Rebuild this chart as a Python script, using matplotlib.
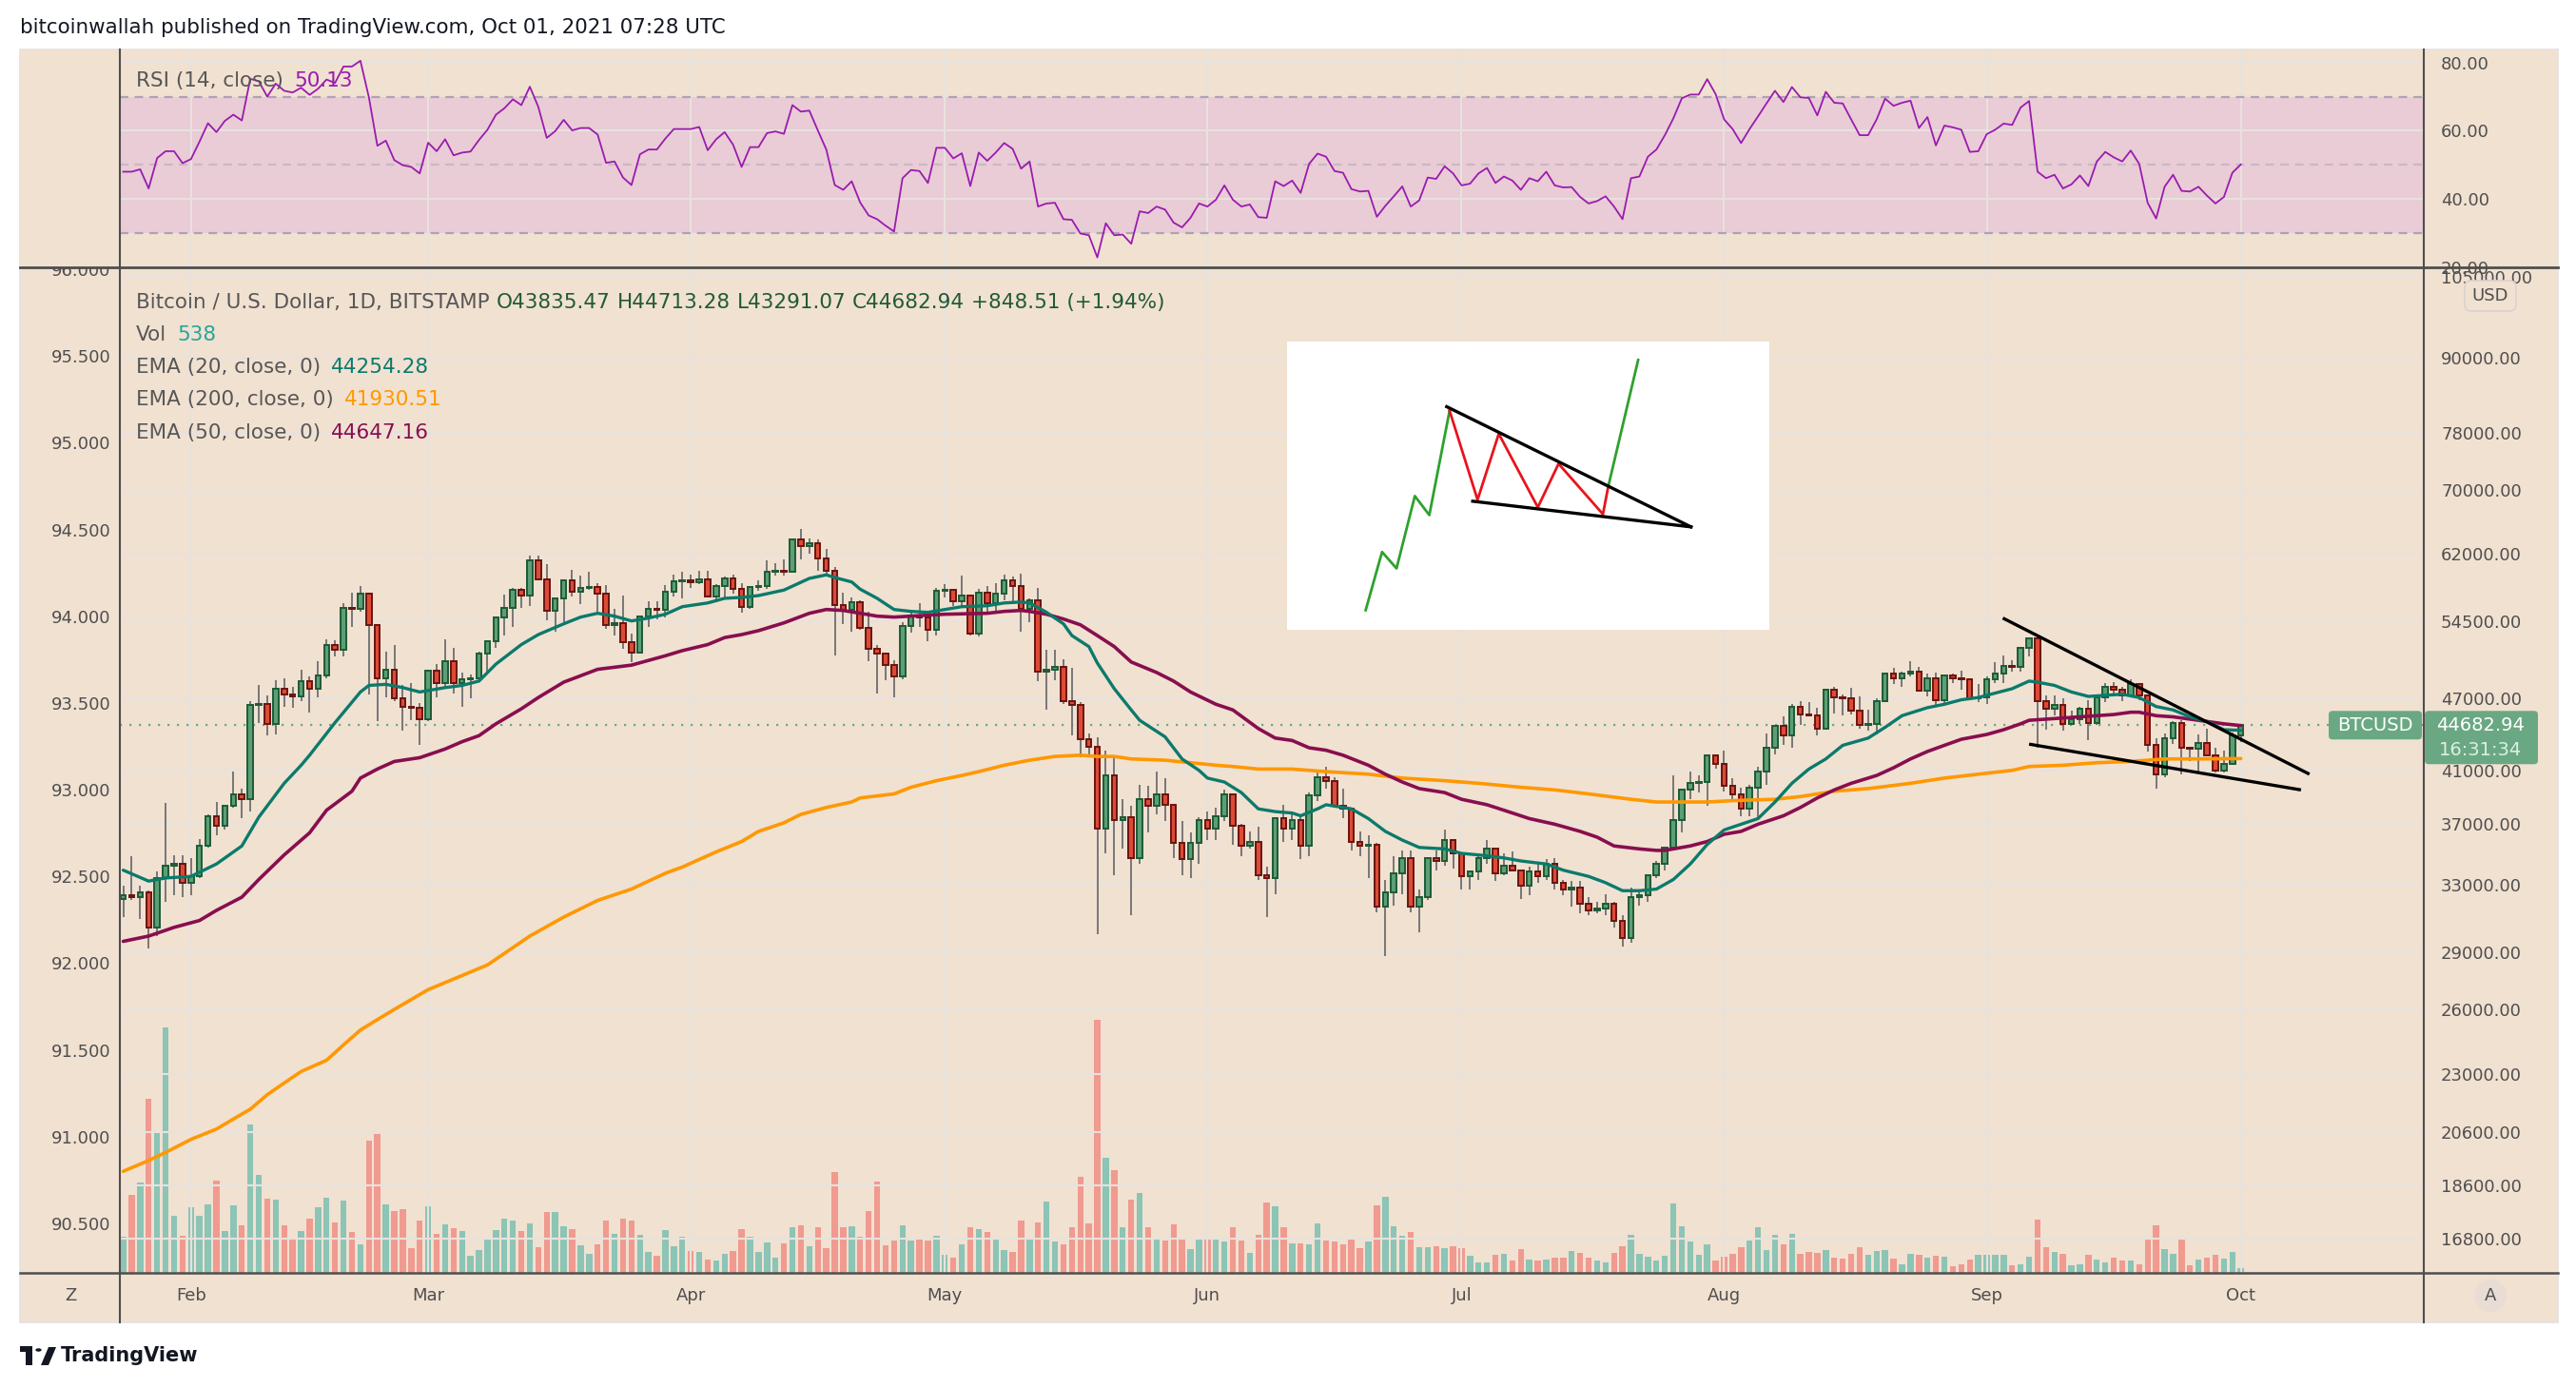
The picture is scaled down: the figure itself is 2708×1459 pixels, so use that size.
import numpy as np
import matplotlib
matplotlib.use('Agg')
import matplotlib.pyplot as plt
from matplotlib.lines import Line2D
from matplotlib.patches import Rectangle, FancyBboxPatch
from matplotlib.transforms import IdentityTransform

# ---------------------------------------------------------------- data
# daily BTCUSD candles, Jan 24 2021 .. Oct 1 2021, prices in thousands of USD
opens = [
    32.1, 32.3, 32.2, 32.5, 30.4, 33.4, 34.2, 34.3,
    33.1, 33.5, 35.5, 37.6, 36.9, 38.3, 39.2, 38.8, 46.4, 46.5, 44.8, 47.9, 47.4, 47.2,
    48.6, 47.9, 49.1, 52.1, 51.6, 55.9, 55.8, 57.4, 54.1, 48.9, 49.7, 47.0, 46.3, 46.2,
    45.2, 49.6, 48.4, 50.5, 48.4, 48.8, 48.9, 51.2, 52.4, 54.9, 55.9, 57.8, 57.2, 61.2,
    59.0, 55.6, 56.9, 58.9, 57.6, 58.0, 58.1, 57.4, 54.1, 54.3, 52.3, 51.3, 55.0, 55.8,
    55.7, 57.6, 58.8,
    58.9, 58.7, 59.0, 57.1, 58.2, 59.1, 57.9, 56.0, 58.1, 58.2, 59.8, 60.0, 59.9, 63.6,
    62.9, 63.2, 61.4, 60.0, 56.2, 55.7, 56.5, 53.8, 51.7, 51.2, 50.1, 49.0, 54.0, 55.0,
    54.9, 53.6,
    57.7, 57.8, 56.6, 57.2, 53.2, 57.5, 56.4, 57.4, 58.9, 58.3, 55.8, 56.7, 49.5, 49.7,
    49.9, 46.8, 46.4, 43.5, 42.9, 36.7, 40.6, 37.3, 37.5, 34.7, 38.8, 38.3, 39.2, 38.4,
    35.7, 34.6, 35.7,
    37.3, 36.7, 37.6, 39.2, 36.9, 35.5, 35.8, 33.6, 33.4, 37.4, 36.7, 37.3, 35.5, 39.1,
    40.5, 40.2, 38.3, 38.1, 35.8, 35.5, 35.6, 31.6, 32.5, 33.7, 34.7, 31.6, 32.2, 34.7,
    34.5, 35.9,
    35.0, 33.5, 33.8, 34.7, 35.3, 33.7, 34.2, 33.9, 32.9, 33.8, 33.5, 34.3, 33.1, 32.7,
    32.8, 31.8, 31.4, 31.5, 31.8, 30.8, 29.8, 32.2, 32.3, 33.6, 34.3, 35.4, 37.3, 39.5,
    40.0, 40.1, 42.2,
    41.5, 39.8, 39.2, 38.1, 39.7, 40.9, 42.8, 44.6, 43.8, 46.3, 45.6, 45.5, 44.4, 47.8,
    47.1, 47.0, 45.9, 44.7, 44.8, 46.8, 49.3, 48.9, 49.3, 49.5, 47.7, 48.9, 46.9, 49.1,
    48.9, 48.8, 47.0,
    47.1, 48.8, 49.3, 50.0, 49.9, 51.8, 52.7, 46.8, 46.1, 46.4, 44.8, 45.2, 46.1, 44.9,
    47.1, 48.1, 47.8, 47.3, 48.3, 47.3, 43.0, 40.7, 43.6, 44.9, 42.8, 42.7, 43.2, 42.2,
    41.0, 41.5,
    43.83547,
]
highs = [
    32.9, 34.8, 32.9, 32.6, 33.8, 38.5, 34.9, 34.9,
    34.7, 36.0, 37.7, 38.6, 38.3, 40.9, 39.6, 46.8, 48.2, 47.3, 48.7, 48.9, 48.1, 49.7,
    49.0, 50.5, 52.6, 52.5, 56.4, 57.5, 58.3, 57.5, 54.2, 51.4, 52.1, 48.2, 48.4, 46.6,
    49.7, 50.2, 52.6, 51.8, 49.4, 49.2, 51.4, 52.4, 54.9, 57.3, 58.0, 58.0, 61.7, 61.7,
    60.7, 56.9, 58.9, 60.1, 59.4, 59.9, 58.6, 58.4, 55.8, 57.2, 53.2, 55.0, 56.6, 56.6,
    58.4, 59.5, 59.9,
    59.5, 60.0, 60.0, 58.5, 59.3, 59.5, 58.6, 58.2, 58.9, 61.2, 60.8, 61.3, 63.8, 64.9,
    63.8, 63.6, 62.5, 60.4, 57.5, 57.0, 56.7, 55.5, 52.1, 51.2, 50.6, 54.4, 55.5, 56.4,
    55.2, 58.0,
    58.5, 57.8, 59.4, 57.2, 57.9, 58.3, 58.6, 59.5, 59.3, 59.6, 56.9, 58.0, 51.6, 51.6,
    50.7, 49.8, 46.7, 44.0, 43.7, 42.6, 42.2, 38.8, 38.3, 39.9, 39.8, 40.9, 40.4, 38.4,
    37.2, 36.4, 37.5,
    37.9, 38.2, 39.5, 39.2, 37.0, 36.5, 36.8, 34.1, 37.5, 38.4, 37.7, 37.5, 39.3, 41.0,
    41.3, 40.5, 39.6, 38.2, 36.5, 36.2, 35.7, 33.3, 34.8, 35.2, 35.2, 32.7, 34.7, 35.2,
    36.6, 36.0,
    35.0, 33.9, 35.0, 35.9, 35.3, 35.0, 35.1, 33.9, 34.1, 34.3, 34.6, 34.7, 33.3, 33.2,
    33.2, 32.2, 31.9, 32.4, 31.9, 31.1, 32.8, 32.6, 33.6, 34.5, 35.4, 40.6, 39.5, 40.9,
    40.6, 42.3, 42.3,
    42.6, 40.4, 39.7, 39.9, 41.3, 44.0, 44.6, 45.4, 46.5, 46.8, 46.7, 46.2, 47.9, 48.1,
    47.4, 48.0, 47.2, 46.0, 47.0, 49.4, 49.8, 49.5, 50.5, 49.9, 49.3, 49.4, 49.2, 49.3,
    49.6, 48.9, 48.3,
    49.0, 50.4, 51.0, 50.6, 51.9, 52.8, 52.9, 47.3, 47.3, 47.0, 45.9, 46.3, 46.9, 47.2,
    48.4, 48.5, 48.1, 48.8, 48.4, 47.4, 43.6, 44.0, 45.0, 45.1, 42.9, 43.9, 44.4, 42.8,
    42.6, 44.1,
    44.71328,
]
lows = [
    31.0, 32.0, 30.9, 29.2, 29.9, 31.9, 32.3, 32.2,
    32.3, 33.4, 35.4, 36.2, 36.6, 38.2, 37.4, 37.9, 44.9, 43.8, 43.9, 46.3, 46.2, 46.8,
    45.8, 47.1, 48.9, 50.9, 50.9, 53.9, 55.5, 47.4, 45.0, 47.1, 46.8, 44.2, 45.1, 43.0,
    45.0, 47.1, 48.1, 47.5, 46.3, 47.0, 48.7, 49.3, 51.8, 53.0, 53.9, 55.9, 56.1, 59.0,
    54.6, 53.4, 54.1, 57.1, 56.3, 57.8, 55.5, 53.7, 53.0, 51.7, 50.4, 51.2, 53.9, 54.7,
    54.9, 57.1, 56.9,
    58.0, 58.5, 57.0, 56.5, 56.8, 57.4, 55.4, 55.8, 57.7, 57.9, 59.4, 59.4, 59.8, 61.3,
    62.0, 60.0, 59.6, 51.0, 54.2, 53.4, 53.6, 50.5, 47.5, 48.7, 47.1, 48.8, 53.3, 53.9,
    52.4, 53.0,
    57.0, 56.1, 56.0, 53.0, 52.9, 55.3, 55.3, 56.7, 56.3, 53.4, 54.4, 48.6, 46.0, 48.7,
    46.5, 43.8, 42.0, 42.0, 30.0, 35.0, 33.6, 35.3, 31.1, 34.3, 36.4, 37.7, 37.2, 34.7,
    33.6, 33.4, 34.3,
    35.9, 35.9, 37.2, 35.6, 34.8, 35.3, 33.3, 31.0, 32.4, 35.8, 35.9, 34.6, 34.8, 38.7,
    39.6, 38.2, 37.4, 35.2, 34.8, 33.4, 31.3, 28.8, 31.7, 32.4, 31.3, 30.1, 32.0, 33.9,
    34.2, 34.0,
    32.7, 32.7, 33.3, 34.3, 33.2, 33.6, 33.8, 32.1, 32.3, 33.1, 33.3, 32.7, 32.3, 31.6,
    31.2, 31.1, 31.2, 31.1, 30.4, 29.3, 29.5, 31.7, 31.9, 33.4, 33.9, 35.3, 36.4, 38.8,
    39.3, 38.3, 41.1,
    39.4, 38.7, 37.6, 37.6, 37.4, 39.9, 42.3, 43.0, 42.8, 44.7, 45.4, 43.8, 44.4, 45.7,
    45.5, 45.6, 44.4, 44.2, 43.9, 46.7, 48.3, 48.1, 49.0, 47.6, 47.2, 46.4, 46.4, 48.4,
    47.8, 46.9, 46.7,
    46.5, 48.4, 48.4, 49.5, 49.5, 50.9, 42.8, 44.3, 45.5, 44.2, 44.7, 44.8, 43.4, 44.7,
    46.7, 47.2, 46.8, 47.1, 46.9, 42.5, 39.6, 40.5, 43.1, 40.7, 41.7, 40.8, 42.1, 40.8,
    40.8, 41.4,
    43.29107,
]
closes = [
    32.3, 32.2, 32.5, 30.4, 33.4, 34.2, 34.3, 33.1,
    33.5, 35.5, 37.6, 36.9, 38.3, 39.2, 38.8, 46.4, 46.5, 44.8, 47.9, 47.4, 47.2, 48.6,
    47.9, 49.1, 52.1, 51.6, 55.9, 55.8, 57.4, 54.1, 48.9, 49.7, 47.0, 46.3, 46.2, 45.2,
    49.6, 48.4, 50.5, 48.4, 48.8, 48.9, 51.2, 52.4, 54.9, 55.9, 57.8, 57.2, 61.2, 59.0,
    55.6, 56.9, 58.9, 57.6, 58.0, 58.1, 57.4, 54.1, 54.3, 52.3, 51.3, 55.0, 55.8, 55.7,
    57.6, 58.8, 58.9,
    58.7, 59.0, 57.1, 58.2, 59.1, 57.9, 56.0, 58.1, 58.2, 59.8, 60.0, 59.9, 63.6, 62.9,
    63.2, 61.4, 60.0, 56.2, 55.7, 56.5, 53.8, 51.7, 51.2, 50.1, 49.0, 54.0, 55.0, 54.9,
    53.6, 57.7,
    57.8, 56.6, 57.2, 53.2, 57.5, 56.4, 57.4, 58.9, 58.3, 55.8, 56.7, 49.5, 49.7, 49.9,
    46.8, 46.4, 43.5, 42.9, 36.7, 40.6, 37.3, 37.5, 34.7, 38.8, 38.3, 39.2, 38.4, 35.7,
    34.6, 35.7, 37.3,
    36.7, 37.6, 39.2, 36.9, 35.5, 35.8, 33.6, 33.4, 37.4, 36.7, 37.3, 35.5, 39.1, 40.5,
    40.2, 38.3, 38.1, 35.8, 35.5, 35.6, 31.6, 32.5, 33.7, 34.7, 31.6, 32.2, 34.7, 34.5,
    35.9, 35.0,
    33.5, 33.8, 34.7, 35.3, 33.7, 34.2, 33.9, 32.9, 33.8, 33.5, 34.3, 33.1, 32.7, 32.8,
    31.8, 31.4, 31.5, 31.8, 30.8, 29.8, 32.2, 32.3, 33.6, 34.3, 35.4, 37.3, 39.5, 40.0,
    40.1, 42.2, 41.5,
    39.8, 39.2, 38.1, 39.7, 40.9, 42.8, 44.6, 43.8, 46.3, 45.6, 45.5, 44.4, 47.8, 47.1,
    47.0, 45.9, 44.7, 44.8, 46.8, 49.3, 48.9, 49.3, 49.5, 47.7, 48.9, 46.9, 49.1, 48.9,
    48.8, 47.0, 47.1,
    48.8, 49.3, 50.0, 49.9, 51.8, 52.7, 46.8, 46.1, 46.4, 44.8, 45.2, 46.1, 44.9, 47.1,
    48.1, 47.8, 47.3, 48.3, 47.3, 43.0, 40.7, 43.6, 44.9, 42.8, 42.7, 43.2, 42.2, 41.0,
    41.5, 43.8,
    44.68294,
]
# daily volume, thousands of BTC
volumes = [
    4.34, 9.29, 10.68, 20.70, 16.55, 29.11, 6.76, 4.45, 7.80, 6.76,
    8.14, 10.91, 4.92, 8.03, 5.61, 17.59, 11.60, 8.83, 8.72, 5.61,
    3.99, 4.92, 6.41, 7.80, 8.95, 5.95, 8.60, 4.80, 3.42, 15.74,
    16.44, 8.14, 7.33, 7.56, 2.96, 6.18, 7.91, 4.68, 5.72, 5.26,
    4.92, 2.04, 2.73, 4.11, 5.03, 6.41, 6.18, 4.92, 5.84, 3.07,
    7.22, 7.22, 5.49, 5.15, 3.30, 2.27, 3.42, 6.18, 4.68, 6.41,
    6.18, 4.57, 2.50, 2.04, 5.03, 3.19, 4.34, 2.61, 2.50, 1.57,
    1.46, 2.27, 2.61, 5.15, 4.34, 2.50, 3.65, 1.80, 3.53, 5.38,
    5.61, 3.19, 5.38, 2.96, 11.94, 5.38, 5.49, 4.34, 7.33, 10.79,
    3.30, 3.88, 5.61, 3.88, 4.22, 3.88, 4.45, 2.15, 1.80, 3.42,
    5.38, 5.15, 4.80, 3.99, 2.73, 2.50, 6.18, 3.99, 5.95, 8.49,
    3.76, 3.42, 5.38, 11.37, 5.84, 30.03, 13.67, 12.17, 5.38, 8.72,
    9.52, 5.38, 3.99, 3.88, 5.72, 4.22, 2.84, 4.11, 4.11, 3.99,
    3.76, 5.38, 3.88, 2.38, 4.57, 8.37, 7.91, 5.38, 3.53, 3.53,
    3.42, 5.84, 3.88, 3.76, 3.42, 3.99, 2.96, 3.76, 8.03, 9.06,
    5.49, 4.45, 4.80, 3.07, 3.07, 3.19, 2.96, 3.19, 2.96, 2.04,
    1.23, 1.23, 2.15, 2.27, 1.46, 2.84, 1.57, 1.46, 1.57, 1.80,
    1.80, 2.61, 2.38, 1.80, 1.46, 1.23, 2.38, 3.19, 4.57, 2.27,
    1.92, 1.46, 2.04, 8.26, 5.49, 3.76, 2.15, 3.42, 1.46, 1.92,
    2.27, 3.07, 3.88, 5.38, 2.73, 4.57, 3.42, 4.68, 2.27, 2.50,
    2.38, 2.73, 1.80, 1.69, 2.27, 3.07, 2.15, 2.61, 2.73, 1.69,
    1.00, 2.27, 2.15, 1.80, 2.04, 1.92, 0.77, 1.00, 1.57, 2.15,
    2.15, 2.15, 2.15, 0.88, 1.00, 1.92, 6.30, 3.07, 2.50, 2.27,
    0.88, 1.00, 2.15, 1.57, 1.23, 1.80, 1.46, 1.46, 1.00, 3.99,
    5.61, 2.84, 2.27, 4.11, 0.88, 1.57, 1.80, 2.15, 1.69, 2.50,
    0.538,
]
rsi = [
    48.0, 48.0, 48.7, 43.1, 52.0, 54.0, 54.0, 50.5, 51.7, 56.8,
    62.2, 59.6, 62.9, 64.7, 63.0, 75.2, 74.5, 70.0, 73.8, 71.7,
    71.2, 72.6, 70.5, 72.3, 75.0, 74.0, 78.8, 78.8, 80.5, 69.8,
    55.6, 57.1, 51.4, 49.9, 49.4, 47.5, 56.5, 54.0, 57.5, 52.8,
    53.6, 53.9, 57.3, 60.3, 64.7, 66.6, 69.2, 67.5, 72.9, 67.0,
    57.9, 59.9, 63.2, 60.1, 60.8, 60.8, 58.9, 50.6, 51.0, 46.3,
    44.1, 53.1, 54.5, 54.5, 57.7, 60.5, 60.5, 60.5, 61.1, 54.3,
    57.5, 59.6, 55.9, 49.4, 55.2, 55.2, 59.3, 59.8, 59.1, 67.5,
    65.6, 65.9, 60.1, 54.5, 44.1, 42.7, 45.2, 39.0, 35.2, 34.1,
    32.2, 30.5, 46.1, 48.5, 48.2, 44.7, 55.0, 55.0, 51.9, 53.4,
    43.8, 53.6, 51.2, 53.6, 56.4, 54.7, 48.9, 51.0, 37.8, 38.7,
    38.9, 34.1, 33.9, 29.9, 29.4, 22.9, 32.9, 29.4, 29.6, 26.9,
    36.4, 35.9, 37.8, 36.9, 33.1, 31.7, 34.5, 38.7, 37.8, 39.8,
    44.0, 39.8, 37.8, 38.4, 34.7, 34.5, 45.2, 43.8, 45.4, 41.8,
    50.3, 53.3, 52.4, 48.2, 47.7, 42.9, 42.2, 42.4, 34.8, 38.0,
    40.8, 43.7, 37.8, 39.6, 46.3, 45.9, 49.6, 47.5, 44.0, 44.5,
    47.5, 49.1, 44.7, 46.6, 45.4, 42.7, 46.1, 45.2, 48.0, 44.0,
    43.4, 43.5, 40.6, 38.7, 39.4, 40.8, 37.8, 34.1, 46.1, 46.6,
    52.4, 54.5, 58.7, 63.6, 69.5, 70.6, 70.6, 75.1, 70.7, 63.3,
    60.5, 56.4, 60.5, 64.2, 68.0, 71.7, 68.4, 72.8, 69.8, 69.6,
    64.5, 71.4, 68.2, 68.0, 63.3, 58.7, 58.7, 63.3, 69.4, 67.3,
    68.2, 68.8, 60.8, 64.0, 55.7, 61.5, 61.0, 60.3, 53.8, 54.0,
    59.0, 60.3, 62.1, 61.7, 66.8, 68.7, 48.0, 46.1, 47.1, 43.1,
    44.3, 46.9, 43.8, 51.0, 53.8, 52.2, 51.0, 54.2, 50.3, 38.9,
    34.3, 43.6, 47.1, 42.4, 42.2, 43.6, 41.0, 38.7, 40.6, 47.7,
    50.13,
]

# moving averages (day index, thousands of USD)
ema20_day = [0, 3, 5, 8, 11, 14, 16, 19, 21, 22, 25, 28, 29, 31, 33, 35, 38, 40, 42, 44,
             47, 49, 52, 54, 56, 58, 60, 62, 64, 66, 69, 71, 73, 75, 78, 81, 83, 84, 86, 87,
             89, 91, 93, 95, 97, 99, 102, 104, 106, 107, 109, 111, 112, 114, 115, 117, 119, 120, 123, 125,
             127, 128, 130, 132, 134, 136, 138, 139, 141, 142, 145, 147, 149, 151, 153, 156, 158, 160, 163, 165,
             168, 170, 173, 175, 177, 179, 181, 183, 185, 187, 189, 191, 193, 195, 197, 199, 201, 203, 206, 208,
             210, 213, 215, 217, 219, 221, 223, 225, 226, 228, 230, 232, 234, 236, 238, 240, 242, 244, 246, 248,
             250]
ema20_val = [33.9, 33.2, 33.4, 33.5, 34.3, 35.5, 37.5, 40.0, 41.4, 42.2, 44.9, 47.6, 48.2, 48.3, 48.0, 47.6, 48.0, 48.2, 48.6, 50.2,
             52.1, 53.1, 54.2, 54.9, 55.3, 55.0, 54.5, 54.8, 55.2, 56.0, 56.4, 56.9, 57.0, 57.2, 57.8, 59.1, 59.5, 59.2, 58.7, 57.9,
             56.9, 55.7, 55.5, 55.4, 55.7, 56.0, 56.1, 56.4, 56.5, 56.4, 55.4, 54.2, 53.0, 51.9, 50.3, 47.9, 46.0, 45.1, 43.7, 41.9,
             41.0, 40.4, 40.1, 39.3, 38.1, 37.9, 37.8, 37.6, 38.1, 38.4, 38.1, 37.4, 36.5, 35.9, 35.4, 35.3, 35.0, 34.9, 34.7, 34.5,
             34.3, 33.9, 33.5, 33.1, 32.6, 32.6, 32.7, 33.3, 34.3, 35.6, 36.6, 37.0, 37.4, 38.6, 40.0, 41.1, 41.9, 43.0, 43.6, 44.5,
             45.5, 46.2, 46.5, 46.9, 47.1, 47.5, 47.9, 48.6, 48.5, 48.2, 47.6, 47.2, 47.3, 47.4, 47.1, 46.3, 46.0, 45.4, 45.0, 44.3,
             44.25]
ema50_day = [0, 3, 6, 9, 11, 14, 16, 19, 22, 24, 27, 28, 30, 32, 35, 38, 40, 42, 44, 47,
             49, 52, 56, 60, 64, 66, 69, 71, 73, 75, 78, 81, 83, 85, 87, 89, 91, 93, 95, 97,
             102, 104, 106, 107, 109, 111, 113, 115, 117, 119, 122, 124, 126, 129, 131, 134, 136, 138, 140, 142,
             144, 147, 149, 151, 153, 156, 158, 161, 164, 166, 169, 172, 174, 176, 179, 181, 182, 185, 187, 189,
             191, 193, 196, 198, 200, 202, 204, 207, 209, 211, 213, 215, 217, 220, 222, 224, 225, 227, 229, 231,
             233, 235, 237, 238, 240, 242, 244, 246, 248, 250]
ema50_val = [29.6, 29.9, 30.4, 30.8, 31.4, 32.2, 33.3, 34.9, 36.4, 38.0, 39.4, 40.4, 41.1, 41.7, 42.0, 42.7, 43.3, 43.8, 44.8, 46.1,
             47.1, 48.5, 49.7, 50.1, 51.0, 51.5, 52.1, 52.8, 53.1, 53.5, 54.3, 55.3, 55.7, 55.6, 55.3, 55.0, 54.9, 55.0, 55.1, 55.2,
             55.3, 55.5, 55.6, 55.5, 55.2, 54.7, 54.1, 53.0, 51.9, 50.4, 49.4, 48.6, 47.6, 46.5, 46.0, 44.4, 43.6, 43.4, 42.8, 42.6,
             42.2, 41.4, 40.7, 40.1, 39.6, 39.3, 38.8, 38.4, 37.8, 37.4, 37.0, 36.5, 36.1, 35.5, 35.3, 35.2, 35.2, 35.5, 35.8, 36.3,
             36.5, 37.0, 37.6, 38.2, 38.9, 39.5, 40.0, 40.6, 41.2, 41.9, 42.5, 43.0, 43.5, 43.9, 44.3, 44.8, 45.1, 45.2, 45.3, 45.4,
             45.5, 45.6, 45.8, 45.8, 45.5, 45.4, 45.2, 45.0, 44.8, 44.65]
ema200_day = [0, 3, 5, 8, 11, 13, 15, 17, 19, 21, 24, 26, 28, 30, 32, 36, 43, 48, 52, 56,
              60, 64, 66, 70, 73, 75, 78, 80, 83, 86, 87, 91, 93, 96, 99, 101, 104, 107, 110, 113,
              115, 117, 119, 123, 126, 129, 131, 134, 138, 142, 147, 151, 156, 160, 165, 169, 173, 178, 181, 183,
              187, 190, 195, 198, 202, 206, 211, 215, 219, 223, 225, 229, 233, 237, 241, 245, 250]
ema200_val = [19.1, 19.5, 19.8, 20.3, 20.7, 21.1, 21.5, 22.1, 22.6, 23.1, 23.6, 24.3, 25.0, 25.5, 26.0, 27.0, 28.3, 29.9, 31.0, 32.0,
              32.7, 33.7, 34.1, 35.1, 35.8, 36.5, 37.1, 37.7, 38.2, 38.6, 38.9, 39.2, 39.7, 40.2, 40.6, 40.9, 41.4, 41.8, 42.1, 42.2,
              42.1, 42.1, 41.9, 41.8, 41.6, 41.4, 41.3, 41.1, 41.1, 40.9, 40.7, 40.4, 40.2, 40.0, 39.7, 39.5, 39.2, 38.8, 38.6, 38.6,
              38.6, 38.7, 38.8, 39.0, 39.4, 39.6, 40.0, 40.4, 40.7, 41.0, 41.3, 41.4, 41.6, 41.7, 41.9, 41.9, 41.93]

# falling wedge drawn on the chart (day index, thousands of USD)
wedge_upper = ([221.9, 258.1], [54.8, 40.7])
wedge_lower = ([225.0, 257.1], [43.1, 39.5])

# schematic in the white inset (0..1 box coordinates)
pole_x = [0.163, 0.197, 0.227, 0.265, 0.295, 0.337]
pole_y = [0.068, 0.270, 0.213, 0.464, 0.398, 0.760]
swing_x = [0.337, 0.395, 0.439, 0.520, 0.563, 0.655, 0.666]
swing_y = [0.760, 0.451, 0.680, 0.425, 0.576, 0.401, 0.497]
breakout_x = [0.666, 0.728]
breakout_y = [0.497, 0.936]
inset_upper = ([0.331, 0.8375], [0.774, 0.357])
inset_lower = ([0.385, 0.8375], [0.446, 0.357])

month_day = [8, 36, 67, 97, 128, 158, 189, 220, 250]
month_names = ['Feb', 'Mar', 'Apr', 'May', 'Jun', 'Jul', 'Aug', 'Sep', 'Oct']
price_ticks = [105000, 90000, 78000, 70000, 62000, 54500, 47000, 41000, 37000,
               33000, 29000, 26000, 23000, 20600, 18600, 16800]
left_ticks = [90.5, 91.0, 91.5, 92.0, 92.5, 93.0, 93.5, 94.0, 94.5, 95.0, 95.5, 96.0]
rsi_ticks = [20, 40, 60, 80]

# ---------------------------------------------------------------- style
W, H = 2708, 1459
BG = '#f1e1d1'
GRID = '#e7e2de'
AXIS_TXT = '#4f4f4f'
LINE_DARK = '#4e4e4e'
UP_FILL, UP_EDGE = '#5c9f76', '#1d5b36'
DN_FILL, DN_EDGE = '#dc4b36', '#6a1410'
WICK = '#777777'
VOL_UP, VOL_DN = '#8cc4b6', '#f09a90'
C_EMA20, C_EMA50, C_EMA200 = '#0b7a6b', '#880e4f', '#ff9800'
C_RSI = '#9a1bb0'
LABEL_GREEN = '#6aa883'
FS = 13
LEG_FS = 15.5

fig = plt.figure(figsize=(W / 100, H / 100), dpi=100)
fig.patch.set_facecolor('white')


def frac(x0, y0, x1, y1):
    return [x0 / W, 1 - y1 / H, (x1 - x0) / W, (y1 - y0) / H]


def px_line(xs, ys, **kw):
    fig.add_artist(Line2D([v / W for v in xs], [1 - v / H for v in ys],
                          transform=fig.transFigure, **kw))


def px_box(x0, y0, x1, y1, color, r=4, z=8):
    fig.add_artist(FancyBboxPatch((x0, H - y1), x1 - x0, y1 - y0,
                                  boxstyle=f'round,pad=0,rounding_size={r}',
                                  transform=IdentityTransform(), fc=color, ec='none', zorder=z))


def clean(a):
    for s in a.spines.values():
        s.set_visible(False)


# chart frame
fig.add_artist(Rectangle((21 / W, 1 - 1390 / H), (2689 - 21) / W, (1390 - 52) / H,
                         transform=fig.transFigure, fc=BG, ec='#e2e2e2', lw=1.2, zorder=-5))

x = np.arange(len(closes))
o = np.array(opens) * 1000
h = np.array(highs) * 1000
lo = np.array(lows) * 1000
c = np.array(closes) * 1000
up = c >= o
XL = (-0.4, 271.6)
PANE = frac(126, 282, 2548, 1338)

# volume (behind everything)
ax_vol = fig.add_axes(PANE, zorder=1)
ax_vol.set_facecolor(BG)
ax_vol.bar(x, volumes, width=0.72, color=np.where(up, VOL_UP, VOL_DN), linewidth=0)
ax_vol.set_xlim(*XL)
ax_vol.set_ylim(0, 119.2)
ax_vol.set_xticks([])
ax_vol.set_yticks([])
clean(ax_vol)

# left scale
ax_left = fig.add_axes(PANE, zorder=2)
ax_left.patch.set_visible(False)
ax_left.set_ylim(90.214, 96.0055)
ax_left.set_xticks([])
ax_left.set_yticks(left_ticks)
ax_left.set_yticklabels([f'{v:.3f}' for v in left_ticks])
ax_left.tick_params(axis='y', length=0, pad=7, labelsize=FS, labelcolor=AXIS_TXT)
clean(ax_left)

# price pane
ax = fig.add_axes(PANE, zorder=3)
ax.patch.set_visible(False)
ax.set_yscale('log')
ax.set_xlim(*XL)
ax.set_ylim(15740, 106700)
ax.yaxis.tick_right()
ax.set_yticks(price_ticks)
ax.set_yticklabels([f'{v:.2f}' for v in price_ticks])
ax.yaxis.set_minor_locator(plt.NullLocator())
ax.set_xticks(month_day)
ax.set_xticklabels(month_names)
ax.tick_params(axis='y', length=0, pad=13, labelsize=FS, labelcolor=AXIS_TXT)
ax.tick_params(axis='x', length=0, pad=11, labelsize=FS, labelcolor=AXIS_TXT)
ax.grid(True, color=GRID, lw=1.5, zorder=0)
ax.set_axisbelow(True)
clean(ax)

ax.vlines(x, lo, h, color=WICK, lw=1.4, zorder=2)
lo_b = np.minimum(o, c)
hi_b = np.maximum(o, c)
ax.bar(x[up], (hi_b - lo_b)[up], bottom=lo_b[up], width=0.62, color=UP_FILL,
       edgecolor=UP_EDGE, linewidth=1.4, zorder=3)
ax.bar(x[~up], (hi_b - lo_b)[~up], bottom=lo_b[~up], width=0.62, color=DN_FILL,
       edgecolor=DN_EDGE, linewidth=1.4, zorder=3)

ax.plot(ema200_day, np.array(ema200_val) * 1000, color=C_EMA200, lw=2.6, zorder=4,
        solid_capstyle='round')
ax.plot(ema50_day, np.array(ema50_val) * 1000, color=C_EMA50, lw=2.6, zorder=4,
        solid_capstyle='round')
ax.plot(ema20_day, np.array(ema20_val) * 1000, color=C_EMA20, lw=2.4, zorder=4,
        solid_capstyle='round')

last = c[-1]
ax.axhline(last, color=LABEL_GREEN, lw=1.6, ls=(0, (1, 3.5)), zorder=1)

for xs, ys in (wedge_upper, wedge_lower):
    ax.plot(xs, np.array(ys) * 1000, color='black', lw=2.4, zorder=6,
            solid_capstyle='butt')

# inset with the textbook pattern
ax_in = fig.add_axes(frac(1353, 359, 1860, 662), zorder=4)
ax_in.set_facecolor('white')
ax_in.set_xlim(0, 1)
ax_in.set_ylim(0, 1)
ax_in.set_xticks([])
ax_in.set_yticks([])
clean(ax_in)
ax_in.plot(pole_x, pole_y, color='#2ea12e', lw=2.0)
ax_in.plot(breakout_x, breakout_y, color='#2ea12e', lw=2.0)
ax_in.plot(swing_x, swing_y, color='#e8141c', lw=2.0)
for xs, ys in (inset_upper, inset_lower):
    ax_in.plot(xs, ys, color='black', lw=2.4)

# RSI pane, with a cover hiding whatever pokes up from the price pane
fig.add_artist(Rectangle((21 / W, 1 - 281 / H), (2689 - 21) / W, (281 - 52) / H,
                         transform=fig.transFigure, fc=BG, ec='none', zorder=5))
ax_rsi = fig.add_axes(frac(126, 52, 2548, 281), zorder=6)
ax_rsi.set_facecolor(BG)
ax_rsi.set_xlim(*XL)
ax_rsi.set_ylim(20.2, 83.8)
ax_rsi.axhspan(30, 70, color='#e9ccd5', lw=0, zorder=0)
ax_rsi.yaxis.tick_right()
ax_rsi.set_yticks(rsi_ticks)
ax_rsi.set_yticklabels([f'{v:.2f}' for v in rsi_ticks])
ax_rsi.set_xticks(month_day)
ax_rsi.set_xticklabels([])
ax_rsi.tick_params(axis='y', length=0, pad=13, labelsize=FS, labelcolor=AXIS_TXT)
ax_rsi.tick_params(axis='x', length=0)
ax_rsi.grid(True, color=GRID, lw=1.5)
ax_rsi.set_axisbelow(True)
for lvl, col in ((70, '#aba3b4'), (50, '#c9b8c6'), (30, '#aba3b4')):
    ax_rsi.axhline(lvl, color=col, lw=1.6, ls=(0, (4, 3)), zorder=1)
ax_rsi.plot(x, rsi, color=C_RSI, lw=1.3, zorder=3)
clean(ax_rsi)

# pane borders
px_line([21, 2689], [281, 281], color=LINE_DARK, lw=2.0, zorder=7)
px_line([21, 2689], [1338, 1338], color=LINE_DARK, lw=1.8, zorder=7)
px_line([126, 126], [52, 1390], color=LINE_DARK, lw=1.5, zorder=7)
px_line([2548, 2548], [52, 1390], color=LINE_DARK, lw=1.5, zorder=7)


# legends
def legend_row(host, x0, y0, parts, size=LEG_FS):
    prev = None
    for txt, col, gap in parts:
        if prev is None:
            prev = host.text(x0 / W, 1 - y0 / H, txt, color=col, fontsize=size,
                             va='center', ha='left', transform=fig.transFigure, zorder=9)
        else:
            prev = host.annotate(txt, xy=(1, 0.5), xycoords=prev, xytext=(gap, 0),
                                 textcoords='offset points', color=col, fontsize=size,
                                 va='center', ha='left', zorder=9)


GRAY_TXT = '#575757'
OHLC_GREEN = '#215a36'
GAP = 5
legend_row(ax_rsi, 143, 85, [('RSI (14, close)', GRAY_TXT, 0), ('50.13', C_RSI, 8)])
legend_row(ax, 143, 318, [('Bitcoin / U.S. Dollar, 1D, BITSTAMP', GRAY_TXT, 0),
                          ('O43835.47', OHLC_GREEN, GAP), ('H44713.28', OHLC_GREEN, GAP),
                          ('L43291.07', OHLC_GREEN, GAP), ('C44682.94', OHLC_GREEN, GAP),
                          ('+848.51 (+1.94%)', OHLC_GREEN, GAP)])
legend_row(ax, 143, 352, [('Vol', GRAY_TXT, 0), ('538', '#26a69a', 8)])
legend_row(ax, 143, 386, [('EMA (20, close, 0)', GRAY_TXT, 0), ('44254.28', C_EMA20, 8)])
legend_row(ax, 143, 420, [('EMA (200, close, 0)', GRAY_TXT, 0), ('41930.51', C_EMA200, 8)])
legend_row(ax, 143, 455, [('EMA (50, close, 0)', GRAY_TXT, 0), ('44647.16', C_EMA50, 8)])

# last price labels
y_last = H - ax.transData.transform((0, last))[1]
px_box(2448, y_last - 15, 2546, y_last + 15, LABEL_GREEN, r=4)
fig.text(2497 / W, 1 - y_last / H, 'BTCUSD', color='white', fontsize=14,
         ha='center', va='center', zorder=9)
px_box(2549, y_last - 15, 2668, y_last + 41, LABEL_GREEN, r=4)
fig.text(2608 / W, 1 - y_last / H, f'{last:.2f}', color='white', fontsize=14,
         ha='center', va='center', zorder=9)
fig.text(2608 / W, 1 - (y_last + 26) / H, '16:31:34', color='#dcefe3', fontsize=14,
         ha='center', va='center', zorder=9)

# USD badge
fig.add_artist(FancyBboxPatch((2591, H - 327), 54, 32, boxstyle='round,pad=0,rounding_size=7',
                              transform=IdentityTransform(), fc=BG, ec='#d8d2d2', lw=1.2,
                              zorder=8))
fig.text(2618 / W, 1 - 311 / H, 'USD', color=AXIS_TXT, fontsize=FS, ha='center',
         va='center', zorder=9)

# corner buttons
fig.text(74 / W, 1 - 1362 / H, 'Z', color=AXIS_TXT, fontsize=FS, ha='center', va='center',
         zorder=9)
fig.text(2618 / W, 1 - 1362 / H, 'A', color=AXIS_TXT, fontsize=FS, ha='center', va='center',
         zorder=9, bbox=dict(boxstyle='circle,pad=0.45', fc='#e8dcd5', ec='none'))

# header and footer
fig.text(21 / W, 1 - 29 / H, 'bitcoinwallah published on TradingView.com, Oct 01, 2021 07:28 UTC',
         color='#131722', fontsize=15.4, ha='left', va='center')
fig.add_artist(Rectangle((21 / W, 1 - 1421 / H), 13 / W, 6 / H, transform=fig.transFigure,
                         fc='#131722', ec='none'))
fig.add_artist(Rectangle((27 / W, 1 - 1435 / H), 7 / W, 16 / H, transform=fig.transFigure,
                         fc='#131722', ec='none'))
fig.add_artist(plt.Circle((40.5 / W, 1 - 1419 / H), 3.2 / W, transform=fig.transFigure,
                          fc='#131722', ec='none'))
fig.add_artist(plt.Polygon([(43 / W, 1 - 1435 / H), (51 / W, 1 - 1416 / H),
                            (59 / W, 1 - 1416 / H), (51 / W, 1 - 1435 / H)],
                           transform=fig.transFigure, fc='#131722', ec='none'))
fig.text(64 / W, 1 - 1425 / H, 'TradingView', color='#131722', fontsize=15,
         fontweight='bold', ha='left', va='center')

fig.savefig('out.png', dpi=100, facecolor='white')
